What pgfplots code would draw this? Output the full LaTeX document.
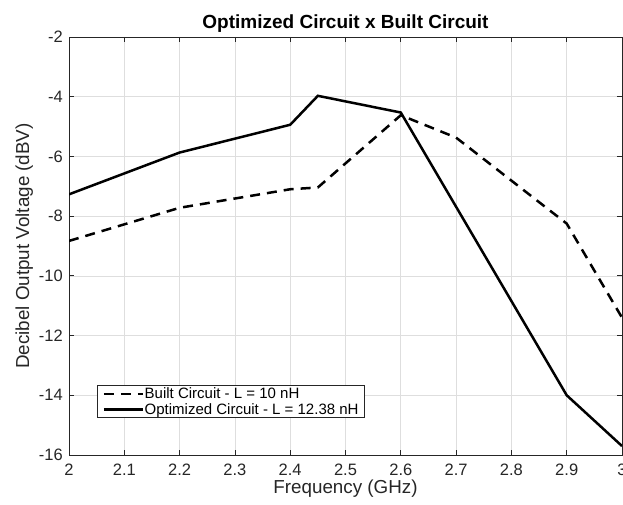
\documentclass[border=0pt]{standalone}
\usepackage{fontspec}
\setmainfont{Liberation Sans}
\usepackage{pgfplots}
\pgfplotsset{compat=1.18}
\definecolor{axgray}{gray}{0.15}
\begin{document}
\begin{tikzpicture}
\begin{axis}[
  scale only axis,
  width=553pt, height=418pt,
  xmin=2, xmax=3, ymin=-16, ymax=-2,
  xtick={2,2.1,...,3.01},
  xticklabels={2,2.1,2.2,2.3,2.4,2.5,2.6,2.7,2.8,2.9,3},
  ytick={-16,-14,...,-2},
  /pgf/number format/assume math mode=true,
  tick label style={font=\fontsize{16.5}{18}\selectfont, color=axgray},
  x tick label style={anchor=north, inner sep=0pt, yshift=-9pt},
  y tick label style={anchor=east, inner sep=0pt, xshift=-6pt},
  tick align=inside,
  major tick length=5pt,
  xtick pos=both, ytick pos=both,
  tick style={axgray, line width=0.8pt},
  grid=major,
  grid style={black!13, line width=0.7pt},
  axis line style={axgray, line width=0.9pt},
  title={\bfseries Optimized Circuit x Built Circuit},
  every axis title/.style={at={(axis description cs:0.5,1.0215)}, anchor=base,
    font=\fontsize{19}{21}\selectfont},
  xlabel={Frequency (GHz)},
  ylabel={Decibel Output Voltage (dBV)},
  every axis x label/.style={at={(axis description cs:0.5,-0.093)}, anchor=base,
    font=\fontsize{18.8}{21}\selectfont, color=axgray},
  every axis y label/.style={at={(axis description cs:-0.0723,0.5)}, rotate=90, anchor=base,
    font=\fontsize{18.8}{21}\selectfont, color=axgray},
  legend style={at={(axis description cs:0.0512,0.0878)}, anchor=south west,
    draw=axgray, line width=0.8pt,
    font=\fontsize{15}{17}\selectfont, inner xsep=5pt, inner ysep=1.5pt,
    nodes={inner sep=0.5pt}, row sep=2.5pt, column sep=0pt},
  legend cell align=left,
  legend image code/.code={\draw[#1] (0pt,0pt) -- (39pt,0pt);},
]
\addplot[black, line width=2.5pt, dash pattern=on 10pt off 7pt] coordinates {
  (2,-8.83) (2.2,-7.72) (2.4,-7.1) (2.45,-7.04) (2.6,-4.62) (2.7,-5.37) (2.9,-8.25) (3,-11.4)
};
\addlegendentry{Built Circuit - L = 10 nH}
\addplot[black, line width=2.5pt] coordinates {
  (2,-7.27) (2.2,-5.87) (2.4,-4.94) (2.45,-3.97) (2.6,-4.53) (2.9,-14.0) (3,-15.7)
};
\addlegendentry{Optimized Circuit - L = 12.38 nH}
\end{axis}
\pgfresetboundingbox
\path[use as bounding box] ([shift={(-69pt,-50pt)}]current axis.south west) rectangle ([shift={(1pt,37pt)}]current axis.north east);
\end{tikzpicture}
\end{document}
